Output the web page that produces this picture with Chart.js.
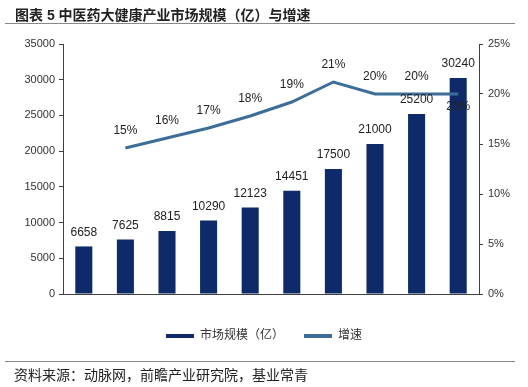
<!DOCTYPE html>
<html>
<head>
<meta charset="utf-8">
<script src="https://cdn.jsdelivr.net/npm/chart.js@4"></script>
<style>
  body { margin: 0; background: #fff; font-family: "Liberation Sans", "Noto Sans CJK SC", sans-serif; }
  #wrap { position: relative; width: 528px; height: 387px; }
  #chart { position: absolute; left: 0; top: 0; }
  .title { position: absolute; left: 15px; top: 4px; font-size: 14px; font-weight: bold; color: #222; }
  .rule { position: absolute; left: 5px; width: 510px; height: 0; border-top: 1.5px solid #888; }
  .source { position: absolute; left: 14px; top: 364px; font-size: 14px; color: #222; }
</style>
</head>
<body>
<div id="wrap">
  <canvas id="chart" width="528" height="387"></canvas>
  <div class="title">图表 5 中医药大健康产业市场规模（亿）与增速</div>
  <div class="rule" style="top: 23px;"></div>
  <div class="rule" style="top: 361px;"></div>
  <div class="source">资料来源：动脉网，前瞻产业研究院，基业常青</div>
</div>
<script>
const years = ["2011", "2012", "2013", "2014", "2015", "2016", "2017", "2018E", "2019E", "2020E"];
const marketSize = [6658, 7625, 8815, 10290, 12123, 14451, 17500, 21000, 25200, 30240];
const growthRate = [null, 14.6, 15.6, 16.6, 17.8, 19.2, 21.2, 20, 20, 20];

const barColor = "#0e2a68";
const lineColor = "#3d6d99";
const axisColor = "#404040";
const fontStack = '"Liberation Sans", "Noto Sans CJK SC", sans-serif';

// numbers above bars and line points
const valueLabels = {
    id: "valueLabels",
    afterDatasetsDraw(chart) {
        const ctx = chart.ctx;
        ctx.save();
        ctx.font = "12px " + fontStack;
        ctx.fillStyle = "#222";
        ctx.textAlign = "center";
        ctx.textBaseline = "middle";

        chart.getDatasetMeta(1).data.forEach((bar, i) => {
            ctx.fillText(marketSize[i], bar.x, bar.y - 14);
        });

        chart.getDatasetMeta(0).data.forEach((pt, i) => {
            if (growthRate[i] == null) return;
            const dy = i === growthRate.length - 1 ? 13 : -17;
            ctx.fillText(Math.round(growthRate[i]) + "%", pt.x, pt.y + dy);
        });
        ctx.restore();
    }
};

new Chart(document.getElementById("chart"), {
    type: "bar",
    data: {
        labels: years,
        datasets: [
            {
                type: "line",
                label: "增速",
                data: growthRate,
                yAxisID: "y1",
                borderColor: lineColor,
                backgroundColor: lineColor,
                borderWidth: 3,
                pointRadius: 0,
                tension: 0
            },
            {
                label: "市场规模（亿）",
                data: marketSize,
                yAxisID: "y",
                backgroundColor: barColor,
                barPercentage: 0.82,
                categoryPercentage: 0.5
            }
        ]
    },
    options: {
        responsive: false,
        animation: false,
        layout: {
            padding: { top: 44, left: 0, right: 0, bottom: 35 }
        },
        plugins: {
            legend: {
                position: "bottom",
                labels: {
                    boxWidth: 28,
                    boxHeight: 4,
                    padding: 20,
                    color: "#333",
                    font: { size: 12, family: fontStack },
                    generateLabels: chart =>
                        Chart.defaults.plugins.legend.labels.generateLabels(chart)
                            .map(item => ({ ...item, lineWidth: 0 })),
                    sort: (a, b) => b.datasetIndex - a.datasetIndex
                }
            },
            tooltip: { enabled: false }
        },
        scales: {
            x: {
                grid: { display: false },
                border: { display: true, color: axisColor },
                ticks: { color: "#333", padding: 9, font: { size: 11, family: fontStack } },
                afterFit: scale => { scale.height = 16; }
            },
            y: {
                position: "left",
                min: 0,
                max: 35000,
                ticks: {
                    stepSize: 5000,
                    color: "#333",
                    padding: 4,
                    font: { size: 11, family: fontStack },
                    callback: v => String(v)
                },
                grid: { drawOnChartArea: false, tickLength: 4, color: axisColor },
                border: { display: true, color: axisColor },
                afterFit: scale => { scale.width = 63; }
            },
            y1: {
                position: "right",
                min: 0,
                max: 25,
                ticks: {
                    stepSize: 5,
                    color: "#333",
                    padding: 5,
                    font: { size: 11, family: fontStack },
                    callback: v => v + "%"
                },
                grid: { drawOnChartArea: false, tickLength: 4, color: axisColor },
                border: { display: true, color: axisColor },
                afterFit: scale => { scale.width = 49; }
            }
        }
    },
    plugins: [valueLabels]
});
</script>
</body>
</html>
